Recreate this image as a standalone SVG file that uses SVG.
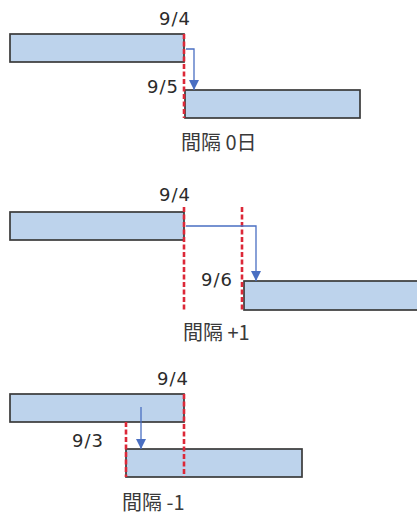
<svg xmlns="http://www.w3.org/2000/svg" width="417" height="517" viewBox="0 0 417 517">
<defs>
<style>
.bar{fill:#bdd3ec;stroke:#3a3a3a;stroke-width:1.7}
.due{stroke:#dc2838;stroke-width:2.6;stroke-dasharray:5 2.5;fill:none}
.link{stroke:#4a6fc2;stroke-width:1.3;fill:none}
.date{font-family:"DejaVu Sans","Liberation Sans",sans-serif;font-size:18px;fill:#2b2b2b;letter-spacing:1px}
.gap{font-family:"Noto Sans CJK JP","Noto Sans CJK SC",sans-serif;font-size:20px;fill:#3a3a3a}
</style>
<marker id="ah" viewBox="0 0 10 10" refX="10" refY="5" markerWidth="10" markerHeight="10" markerUnits="userSpaceOnUse" orient="auto">
<path d="M0,0 L10,5 L0,10 z" fill="#4a6fc2"/>
</marker>
</defs>
<rect width="417" height="517" fill="#ffffff"/>

<g id="case0">
<g id="case0-bar1"><rect class="bar" x="10" y="34" width="174" height="28"/></g>
<g id="case0-bar2"><rect class="bar" x="185" y="90" width="175" height="28"/></g>
<g id="case0-lines"><line class="due" x1="184" y1="34" x2="184" y2="118"/></g>
<g id="case0-labels">
<text class="date" x="159" y="25">9/4</text>
<text class="date" x="147" y="93">9/5</text>
<text class="gap" x="181" y="150">間隔 0日</text>
</g>
</g>

<g id="case1">
<g id="case1-bar1"><rect class="bar" x="10" y="212" width="174" height="28"/></g>
<g id="case1-bar2"><rect class="bar" x="244" y="281" width="178" height="29"/></g>
<g id="case1-lines">
<line class="due" x1="184" y1="207" x2="184" y2="312"/>
<line class="due" x1="242" y1="207" x2="242" y2="312"/>
</g>
<g id="case1-labels">
<text class="date" x="159" y="201">9/4</text>
<text class="date" x="201" y="286">9/6</text>
<text class="gap" x="183" y="340">間隔 +1</text>
</g>
</g>

<g id="case2">
<g id="case2-bar1"><rect class="bar" x="10" y="394" width="174" height="28"/></g>
<g id="case2-bar2"><rect class="bar" x="126" y="449" width="176" height="28"/></g>
<g id="case2-lines">
<line class="due" x1="184" y1="394" x2="184" y2="477"/>
<line class="due" x1="126" y1="422" x2="126" y2="477"/>
</g>
<g id="case2-labels">
<text class="date" x="157" y="385">9/4</text>
<text class="date" x="72" y="447">9/3</text>
<text class="gap" x="122" y="510">間隔 -1</text>
</g>
</g>

<g id="connectors">
<path class="link" d="M186,49 H194 V90" marker-end="url(#ah)"/>
<path class="link" d="M186,226 H256 V281" marker-end="url(#ah)"/>
<path class="link" d="M141,407 V449" marker-end="url(#ah)"/>
</g>
</svg>
